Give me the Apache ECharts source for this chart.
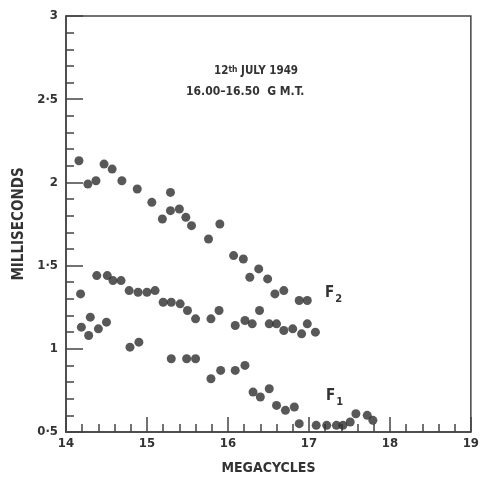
<!DOCTYPE html>
<html>
<head>
<meta charset="utf-8">
<script src="https://cdn.jsdelivr.net/npm/echarts@6/dist/echarts.min.js"></script>
<style>
  html, body { margin: 0; padding: 0; background: #fff; }
  #box { width: 482px; height: 482px; }
</style>
</head>
<body>
<div id="box"></div>
<script>
// upper trace (above F2)
var upperPts = [
  [14.16, 2.13], [14.27, 1.99], [14.37, 2.01], [14.47, 2.11], [14.57, 2.08],
  [14.69, 2.01], [14.88, 1.96], [15.06, 1.88], [15.19, 1.78], [15.29, 1.94],
  [15.29, 1.83], [15.40, 1.84], [15.48, 1.79], [15.55, 1.74], [15.76, 1.66],
  [15.90, 1.75], [16.07, 1.56], [16.19, 1.54], [16.27, 1.43], [16.38, 1.48],
  [16.49, 1.42], [16.58, 1.33], [16.69, 1.35], [16.88, 1.29], [16.98, 1.29]
]
// F2 trace
var f2Pts = [
  [14.18, 1.33], [14.38, 1.44], [14.51, 1.44], [14.58, 1.41], [14.68, 1.41],
  [14.78, 1.35], [14.89, 1.34], [15.00, 1.34], [15.10, 1.35], [15.20, 1.28],
  [15.30, 1.28], [15.41, 1.27], [15.50, 1.23], [15.60, 1.18], [15.79, 1.18],
  [15.89, 1.23], [16.09, 1.14], [16.21, 1.17], [16.30, 1.15], [16.39, 1.23],
  [16.51, 1.15], [16.60, 1.15], [16.69, 1.11], [16.80, 1.12], [16.91, 1.09],
  [16.98, 1.15], [17.08, 1.10]
]
// F1 trace
var f1Pts = [
  [14.19, 1.13], [14.28, 1.08], [14.30, 1.19], [14.40, 1.12], [14.50, 1.16],
  [14.79, 1.01], [14.90, 1.04], [15.30, 0.94], [15.49, 0.94], [15.60, 0.94],
  [15.79, 0.82], [15.91, 0.87], [16.09, 0.87], [16.21, 0.90], [16.31, 0.74],
  [16.40, 0.71], [16.51, 0.76], [16.60, 0.66], [16.71, 0.63], [16.82, 0.65],
  [16.88, 0.55], [17.09, 0.54], [17.22, 0.54], [17.34, 0.54], [17.42, 0.54],
  [17.51, 0.56], [17.58, 0.61], [17.72, 0.60], [17.79, 0.57]
]

var font = '"DejaVu Sans Condensed", "DejaVu Sans", sans-serif'
var ink = '#333'

var myChart = echarts.init(document.getElementById('box'))

function dots(data) {
  return {
    type: 'scatter',
    data: data,
    symbolSize: 9,
    itemStyle: { color: '#2e2e2e' },
    clip: false
  }
}

myChart.setOption({
  animation: false,
  grid: {
    left: 66, right: 8, top: 16, bottom: 50,
    show: true, borderColor: '#444', borderWidth: 1.5
  },
  xAxis: {
    type: 'value',
    min: 14, max: 19, interval: 1,
    name: 'MEGACYCLES',
    nameLocation: 'middle',
    nameGap: 29,
    nameTextStyle: { fontFamily: font, fontWeight: 'bold', fontSize: 14, color: ink },
    splitLine: { show: false },
    axisLine: { lineStyle: { color: '#444', width: 1.5 } },
    axisTick: { inside: true, length: 15, lineStyle: { color: '#444', width: 1.5 } },
    minorTick: { show: true, splitNumber: 5, length: 8, lineStyle: { color: '#444', width: 1.5 } },
    axisLabel: { fontFamily: font, fontWeight: 'bold', fontSize: 13, color: ink, margin: 5 }
  },
  yAxis: {
    type: 'value',
    min: 0.5, max: 3, interval: 0.5,
    name: 'MILLISECONDS',
    nameLocation: 'middle',
    nameGap: 37,
    nameTextStyle: { fontFamily: font, fontWeight: 'bold', fontSize: 15, color: ink },
    splitLine: { show: false },
    axisLine: { lineStyle: { color: '#444', width: 1.5 } },
    axisTick: { inside: true, length: 17, lineStyle: { color: '#444', width: 1.5 } },
    minorTick: { show: true, splitNumber: 5, length: 8, lineStyle: { color: '#444', width: 1.5 } },
    axisLabel: {
      fontFamily: font, fontWeight: 'bold', fontSize: 13, color: ink, margin: 8,
      formatter: function (v) { return String(v).replace('.', '·') }
    }
  },
  graphic: [
    {
      type: 'text', left: 214, top: 65,
      style: {
        text: '{a|12}{b|th}{a| JULY 1949}',
        rich: {
          a: { fontFamily: font, fontSize: 11.5, fontWeight: 'bold', fill: ink },
          b: { fontFamily: font, fontSize: 8.5, fontWeight: 'bold', fill: ink, verticalAlign: 'top' }
        }
      }
    },
    {
      type: 'text', left: 186, top: 86,
      style: { text: '16.00–16.50  G M.T.', fontFamily: font, fontSize: 12, fontWeight: 'bold', fill: ink }
    },
    {
      type: 'text', left: 325, top: 286,
      style: {
        text: '{a|F}{b|2}',
        rich: {
          a: { fontFamily: font, fontSize: 15, fontWeight: 'bold', fill: ink },
          b: { fontFamily: font, fontSize: 11, fontWeight: 'bold', fill: ink, padding: [12, 0, 0, 1] }
        }
      }
    },
    {
      type: 'text', left: 326, top: 389,
      style: {
        text: '{a|F}{b|1}',
        rich: {
          a: { fontFamily: font, fontSize: 15, fontWeight: 'bold', fill: ink },
          b: { fontFamily: font, fontSize: 11, fontWeight: 'bold', fill: ink, padding: [12, 0, 0, 1] }
        }
      }
    }
  ],
  series: [dots(upperPts), dots(f2Pts), dots(f1Pts)]
})
</script>
</body>
</html>
